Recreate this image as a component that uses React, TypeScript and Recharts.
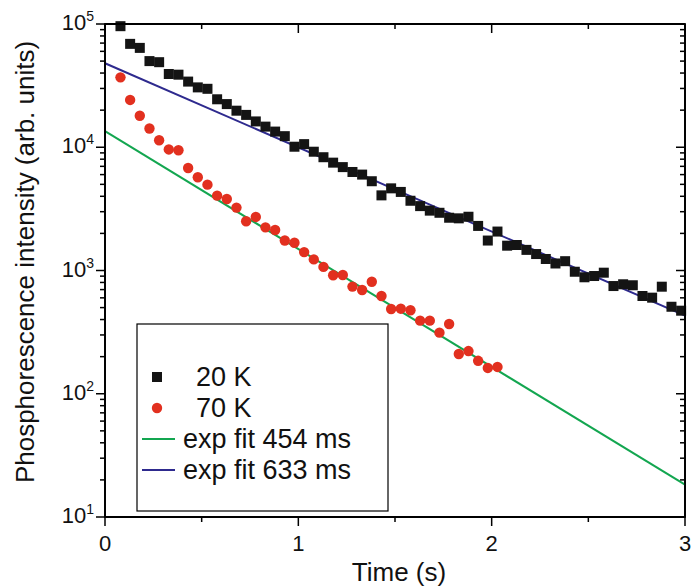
import React from "react";
import { ComposedChart, Scatter, Line, XAxis, YAxis, CartesianGrid } from "recharts";

const FONT = '"Liberation Sans", Arial, Helvetica, sans-serif';

// 20 K phosphorescence decay (black squares)
const times20 = [
  0.08, 0.13, 0.18, 0.23, 0.28, 0.33, 0.38, 0.43, 0.48, 0.53, 0.58, 0.63, 0.68, 0.73, 0.78,
  0.83, 0.88, 0.93, 0.98, 1.03, 1.08, 1.13, 1.18, 1.23, 1.28, 1.33, 1.38, 1.43, 1.48, 1.53,
  1.58, 1.63, 1.68, 1.73, 1.78, 1.83, 1.88, 1.93, 1.98, 2.03, 2.08, 2.13, 2.18, 2.23, 2.28,
  2.33, 2.38, 2.43, 2.48, 2.53, 2.58, 2.63, 2.68, 2.73, 2.78, 2.83, 2.88, 2.93, 2.98,
];
const intensity20 = [
  96000, 69000, 64000, 50000, 49000, 39300, 38800, 34100, 30600, 29800, 24500, 22400, 19800,
  18300, 16200, 14700, 13400, 12300, 10100, 10600, 9200, 8300, 7500, 6900, 6300, 6000, 5300,
  4070, 4640, 4340, 3680, 3330, 3060, 2940, 2680, 2650, 2730, 2300, 1750, 2070, 1590, 1610,
  1470, 1360, 1240, 1140, 1190, 977, 881, 902, 960, 748, 773, 759, 621, 602, 739, 508, 472,
];

// 70 K phosphorescence decay (red circles)
const times70 = [
  0.08, 0.13, 0.18, 0.23, 0.28, 0.33, 0.38, 0.43, 0.48, 0.53, 0.58, 0.63, 0.68, 0.73, 0.78,
  0.83, 0.88, 0.93, 0.98, 1.03, 1.08, 1.13, 1.18, 1.23, 1.28, 1.33, 1.38, 1.43, 1.48, 1.53,
  1.58, 1.63, 1.68, 1.73, 1.78, 1.83, 1.88, 1.93, 1.98, 2.03,
];
const intensity70 = [
  36900, 24200, 18000, 14200, 11400, 9600, 9450, 6790, 5710, 4970, 4050, 3800, 3240, 2510,
  2720, 2240, 2130, 1750, 1680, 1410, 1230, 1070, 915, 920, 740, 695, 811, 621, 487, 490, 476,
  392, 392, 313, 368, 210, 222, 185, 162, 165,
];

// exponential fits, end points (straight on the log axis)
const fitTimes = [0, 3];
const fit454 = [13500, 18.3];
const fit633 = [48000, 430];

const xDomain = [0, 3];
const yDomain = [10, 100000];
const xTicks = [0, 0.5, 1, 1.5, 2, 2.5, 3];
const yDecades = [10, 100, 1000, 10000, 100000];
const yTicks = yDecades.flatMap((d) =>
  d === 100000 ? [d] : [1, 2, 3, 4, 5, 6, 7, 8, 9].map((m) => m * d)
);

const data20 = times20.map((x, i) => ({ x, y: intensity20[i] }));
const data70 = times70.map((x, i) => ({ x, y: intensity70[i] }));
const line454 = fitTimes.map((x, i) => ({ x, y: fit454[i] }));
const line633 = fitTimes.map((x, i) => ({ x, y: fit633[i] }));

// tick marks of the mirrored top / right axes
const topTicks = xTicks.map((x) => ({ x, y: yDomain[1] }));
const rightTicks = yTicks.map((y) => ({ x: xDomain[1], y }));

// chart layout
const W = 691;
const H = 587;
const MARGIN = { top: 24, right: 6, bottom: 0, left: 0 };
const Y_AXIS_W = 105;
const X_AXIS_H = 70;
const plotLeft = MARGIN.left + Y_AXIS_W;
const plotTop = MARGIN.top;
const plotW = W - plotLeft - MARGIN.right;
const plotH = H - plotTop - MARGIN.bottom - X_AXIS_H;

const BLACK = "#141414";
const RED = "#e2301f";
const GREEN = "#13a650";
const BLUE = "#2e2a8e";

const axisStyle = { stroke: "#000", strokeWidth: 1.8 };

const isMajorY = (v: number) => yDecades.includes(v);

const BottomTick = (props: any) => {
  const { x, y, payload } = props;
  const major = Number.isInteger(payload.value);
  return (
    <g>
      <line x1={x} x2={x} y1={y} y2={y + (major ? 9 : 5)} stroke="#000" strokeWidth={1.5} />
      {major && (
        <text x={x} y={y + 34} textAnchor="middle" fontSize={22} fontFamily={FONT} fill="#111">
          {payload.value}
        </text>
      )}
    </g>
  );
};

const LeftTick = (props: any) => {
  const { x, y, payload } = props;
  const major = isMajorY(payload.value);
  const exp = Math.round(Math.log10(payload.value));
  return (
    <g>
      <line x1={x} x2={x - (major ? 9 : 5)} y1={y} y2={y} stroke="#000" strokeWidth={1.5} />
      {major && (
        <text x={x - 11} y={y + 6} textAnchor="end" fontSize={22} fontFamily={FONT} fill="#111">
          <tspan>10</tspan>
          <tspan dy={-9} fontSize={14}>
            {exp}
          </tspan>
        </text>
      )}
    </g>
  );
};

// top ticks point down into the plot
const TopTickMark = (props: any) => {
  const { cx, cy, payload } = props;
  const len = Number.isInteger(payload.x) ? 9 : 5;
  return <line x1={cx} x2={cx} y1={cy} y2={cy + len} stroke="#000" strokeWidth={1.5} />;
};

// right ticks point left into the plot
const RightTickMark = (props: any) => {
  const { cx, cy, payload } = props;
  const len = isMajorY(payload.y) ? 9 : 5;
  return <line x1={cx} x2={cx - len} y1={cy} y2={cy} stroke="#000" strokeWidth={1.5} />;
};

const Square = (props: any) => {
  const { cx, cy } = props;
  return <rect x={cx - 5} y={cy - 5} width={10} height={10} fill={BLACK} />;
};

const Dot = (props: any) => {
  const { cx, cy } = props;
  return <circle cx={cx} cy={cy} r={5.2} fill={RED} />;
};

const legendItems = [
  { label: "20 K", kind: "square", color: BLACK },
  { label: "70 K", kind: "circle", color: RED },
  { label: "exp fit 454 ms", kind: "line", color: GREEN },
  { label: "exp fit 633 ms", kind: "line", color: BLUE },
];

export default function App() {
  return (
    <div style={{ position: "absolute", left: 0, top: 0, width: W, height: H, background: "#fff" }}>
      <ComposedChart width={W} height={H} margin={MARGIN}>
        {/* top and right edges of the box */}
        <CartesianGrid
          stroke="#000"
          strokeWidth={1.8}
          horizontalCoordinatesGenerator={(p: any) => [p.offset.top]}
          verticalCoordinatesGenerator={(p: any) => [p.offset.left + p.offset.width]}
        />
        <XAxis
          type="number"
          dataKey="x"
          domain={xDomain}
          ticks={xTicks}
          interval={0}
          height={X_AXIS_H}
          tickSize={0}
          tickMargin={0}
          tick={<BottomTick />}
          axisLine={axisStyle}
        />
        <YAxis
          type="number"
          scale="log"
          domain={yDomain}
          ticks={yTicks}
          interval={0}
          width={Y_AXIS_W}
          tickSize={0}
          tickMargin={0}
          tick={<LeftTick />}
          axisLine={axisStyle}
        />

        <Scatter data={topTicks} dataKey="y" shape={<TopTickMark />} isAnimationActive={false} />
        <Scatter data={rightTicks} dataKey="y" shape={<RightTickMark />} isAnimationActive={false} />

        <Scatter data={data20} dataKey="y" shape={<Square />} isAnimationActive={false} />
        <Scatter data={data70} dataKey="y" shape={<Dot />} isAnimationActive={false} />
        <Line data={line454} dataKey="y" type="linear" stroke={GREEN} strokeWidth={2} dot={false} isAnimationActive={false} />
        <Line data={line633} dataKey="y" type="linear" stroke={BLUE} strokeWidth={2} dot={false} isAnimationActive={false} />
      </ComposedChart>

      {/* frame, axis titles and legend box */}
      <svg width={W} height={H} style={{ position: "absolute", left: 0, top: 0, pointerEvents: "none" }}>
        <rect x={plotLeft} y={plotTop} width={plotW} height={plotH} fill="none" stroke="#000" strokeWidth={1.8} />
        <text x={399} y={581} textAnchor="middle" fontSize={26} fontFamily={FONT} fill="#111">
          Time (s)
        </text>
        <text
          transform="translate(34 262) rotate(-90)"
          textAnchor="middle"
          fontSize={26}
          fontFamily={FONT}
          fill="#111"
        >
          Phosphorescence intensity (arb. units)
        </text>
        <rect x={137} y={324} width={251} height={187} fill="#fff" stroke="#000" strokeWidth={1.2} />
        {legendItems.map((item, i) => {
          const cy = 377 + i * 31;
          return (
            <g key={item.label}>
              {item.kind === "square" && <rect x={152} y={cy - 5} width={10} height={10} fill={item.color} />}
              {item.kind === "circle" && <circle cx={157} cy={cy} r={5.2} fill={item.color} />}
              {item.kind === "line" && <line x1={142} x2={175} y1={cy} y2={cy} stroke={item.color} strokeWidth={2} />}
              <text x={item.kind === "line" ? 183 : 196} y={cy + 9} fontSize={27} fontFamily={FONT} fill="#111">
                {item.label}
              </text>
            </g>
          );
        })}
      </svg>
    </div>
  );
}
